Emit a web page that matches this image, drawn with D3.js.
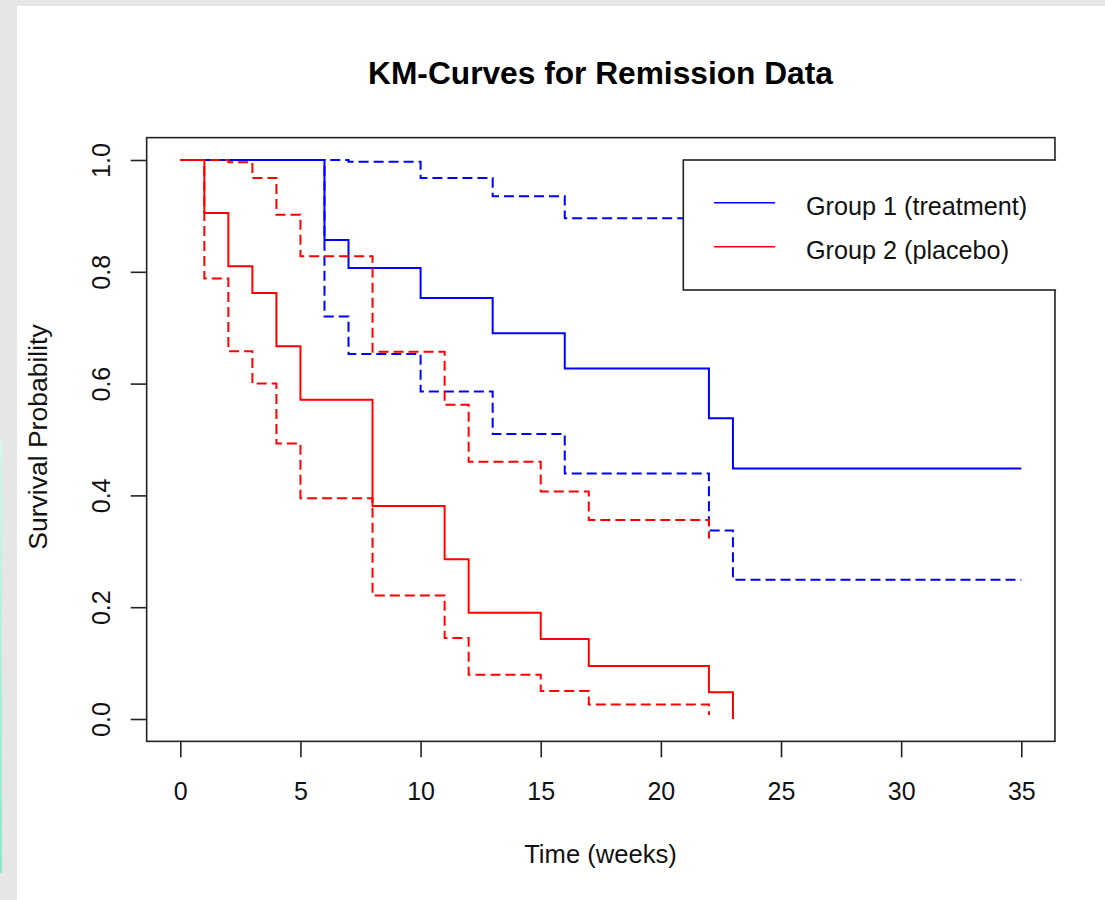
<!DOCTYPE html>
<html>
<head>
<meta charset="utf-8">
<script src="https://cdn.jsdelivr.net/npm/d3@7"></script>
<style>
  html, body { margin: 0; padding: 0; background: #e6e6e6; }
  svg { display: block; font-family: "Liberation Sans", Arial, sans-serif; }
</style>
</head>
<body>
<svg id="chart" width="1105" height="900"></svg>
<script>
// ---- Data (Kaplan-Meier estimates, remission data) ----
const timesG1 = [6, 7, 10, 13, 16, 22, 23];
const survG1  = [0.857, 0.807, 0.753, 0.690, 0.627, 0.538, 0.448];
const upperG1 = [1.000, 0.997, 0.968, 0.935, 0.896, 0.858, 0.807];
const lowerG1 = [0.720, 0.653, 0.586, 0.510, 0.439, 0.337, 0.249];
const endG1 = 35;

const timesG2 = [1, 2, 3, 4, 5, 8, 11, 12, 15, 17, 22, 23];
const survG2  = [0.905, 0.810, 0.762, 0.667, 0.571, 0.381, 0.286, 0.190, 0.143, 0.095, 0.048, 0.000];
const upperG2 = [1.000, 0.996, 0.968, 0.902, 0.828, 0.657, 0.562, 0.460, 0.407, 0.356, 0.323, null];
const lowerG2 = [0.788, 0.658, 0.600, 0.493, 0.395, 0.221, 0.145, 0.079, 0.050, 0.026, 0.007, null];

const xTicks = [0, 5, 10, 15, 20, 25, 30, 35];
const yTicks = [0.0, 0.2, 0.4, 0.6, 0.8, 1.0];
const legendLabels = ["Group 1 (treatment)", "Group 2 (placebo)"];
const groupColors = ["#0000ff", "#ff0000"];
const titleText = "KM-Curves for Remission Data";
const xLabel = "Time (weeks)";
const yLabel = "Survival Probability";

// ---- Layout ----
const svg = d3.select("#chart");
const W = 1105, H = 900;
const font = '"Liberation Sans", Arial, sans-serif';
const axisColor = "#222";

// scales (R style: 4% extension for the box)
const x = d3.scaleLinear().domain([0, 35]).range([180.3, 1021.3]);
const y = d3.scaleLinear().domain([0, 1]).range([719, 160]);
const boxL = x(-1.4), boxR = x(36.4), boxT = y(1.04), boxB = y(-0.04);

// background
svg.append("rect").attr("x", 0).attr("y", 0).attr("width", W).attr("height", H).attr("fill", "#e6e6e6");
svg.append("rect").attr("x", 17).attr("y", 6).attr("width", W - 17).attr("height", H - 6).attr("fill", "#ffffff");
const defs = svg.append("defs");
const grad = defs.append("linearGradient").attr("id", "teal").attr("x1", 0).attr("y1", 0).attr("x2", 0).attr("y2", 1);
grad.append("stop").attr("offset", "0%").attr("stop-color", "#d2f6ee");
grad.append("stop").attr("offset", "100%").attr("stop-color", "#8de8c8");
svg.append("rect").attr("x", 0).attr("y", 440).attr("width", 2).attr("height", 433).attr("fill", "url(#teal)");

// step path builder
function stepPoints(times, vals, end) {
  const pts = [[0, 1]];
  let prev = 1;
  for (let i = 0; i < times.length; i++) {
    if (vals[i] === null) break;
    pts.push([times[i], prev]);
    pts.push([times[i], vals[i]]);
    prev = vals[i];
  }
  if (end !== null) pts.push([end, prev]);
  return pts;
}
const line = d3.line().x(d => x(d[0])).y(d => y(d[1]));

const curves = svg.append("g").attr("fill", "none");
function drawGroup(times, s, up, lo, end, endCI, color) {
  curves.append("path").attr("d", line(stepPoints(times, s, end)))
    .attr("stroke", color).attr("stroke-width", 2);
  [up, lo].forEach(v => {
    curves.append("path").attr("d", line(stepPoints(times, v, endCI)))
      .attr("stroke", color).attr("stroke-width", 2)
      .attr("stroke-dasharray", "10,5");
  });
}
drawGroup(timesG1, survG1, upperG1, lowerG1, endG1, endG1, groupColors[0]);
drawGroup(timesG2, survG2, upperG2, lowerG2, null, null, groupColors[1]);

// box
svg.append("rect").attr("x", boxL).attr("y", boxT).attr("width", boxR - boxL).attr("height", boxB - boxT)
  .attr("fill", "none").attr("stroke", axisColor).attr("stroke-width", 1.6);

// axes
const xAxis = svg.append("g").attr("transform", `translate(0,${boxB})`)
  .call(d3.axisBottom(x).tickValues(xTicks).tickSize(16).tickFormat(d3.format("d")));
xAxis.select(".domain").remove();
xAxis.selectAll("line").attr("stroke", axisColor).attr("stroke-width", 1.6);
xAxis.selectAll("text").attr("y", 58.5).attr("dy", 0).attr("fill", "#111")
  .style("font-family", font).style("font-size", "25px");

const yAxis = svg.append("g").attr("transform", `translate(${boxL},0)`)
  .call(d3.axisLeft(y).tickValues(yTicks).tickSize(16).tickFormat(d3.format(".1f")));
yAxis.select(".domain").remove();
yAxis.selectAll("line").attr("stroke", axisColor).attr("stroke-width", 1.6);
yAxis.selectAll("text").attr("transform", "rotate(-90)").attr("x", 0).attr("y", -36.5).attr("dy", 0)
  .attr("text-anchor", "middle").attr("fill", "#111")
  .style("font-family", font).style("font-size", "25px");

// legend (clipped to plot region, like R)
defs.append("clipPath").attr("id", "plotclip").append("rect")
  .attr("x", boxL - 1).attr("y", boxT - 1).attr("width", boxR - boxL + 2.2).attr("height", boxB - boxT + 2);
const leg = svg.append("g").attr("clip-path", "url(#plotclip)");
leg.append("rect").attr("x", 683.3).attr("y", 160).attr("width", 500).attr("height", 130)
  .attr("fill", "#ffffff").attr("stroke", axisColor).attr("stroke-width", 1.6);
const legY = [202.7, 246.7];
legendLabels.forEach((lab, i) => {
  leg.append("line").attr("x1", 714).attr("x2", 775).attr("y1", legY[i]).attr("y2", legY[i])
    .attr("stroke", groupColors[i]).attr("stroke-width", 1.6);
  leg.append("text").attr("x", 806).attr("y", legY[i] + 12).attr("fill", "#111")
    .style("font-family", font).style("font-size", "25.2px").text(lab);
});

// titles
svg.append("text").attr("x", 600.5).attr("y", 84).attr("text-anchor", "middle")
  .attr("fill", "#000").style("font-family", font).style("font-size", "31.7px").style("font-weight", "bold")
  .text(titleText);
svg.append("text").attr("x", 600.5).attr("y", 863).attr("text-anchor", "middle")
  .attr("fill", "#111").style("font-family", font).style("font-size", "25.6px").text(xLabel);
svg.append("text").attr("transform", `translate(46.5,437) rotate(-90)`).attr("text-anchor", "middle")
  .attr("fill", "#111").style("font-family", font).style("font-size", "26.5px").text(yLabel);
</script>
</body>
</html>
